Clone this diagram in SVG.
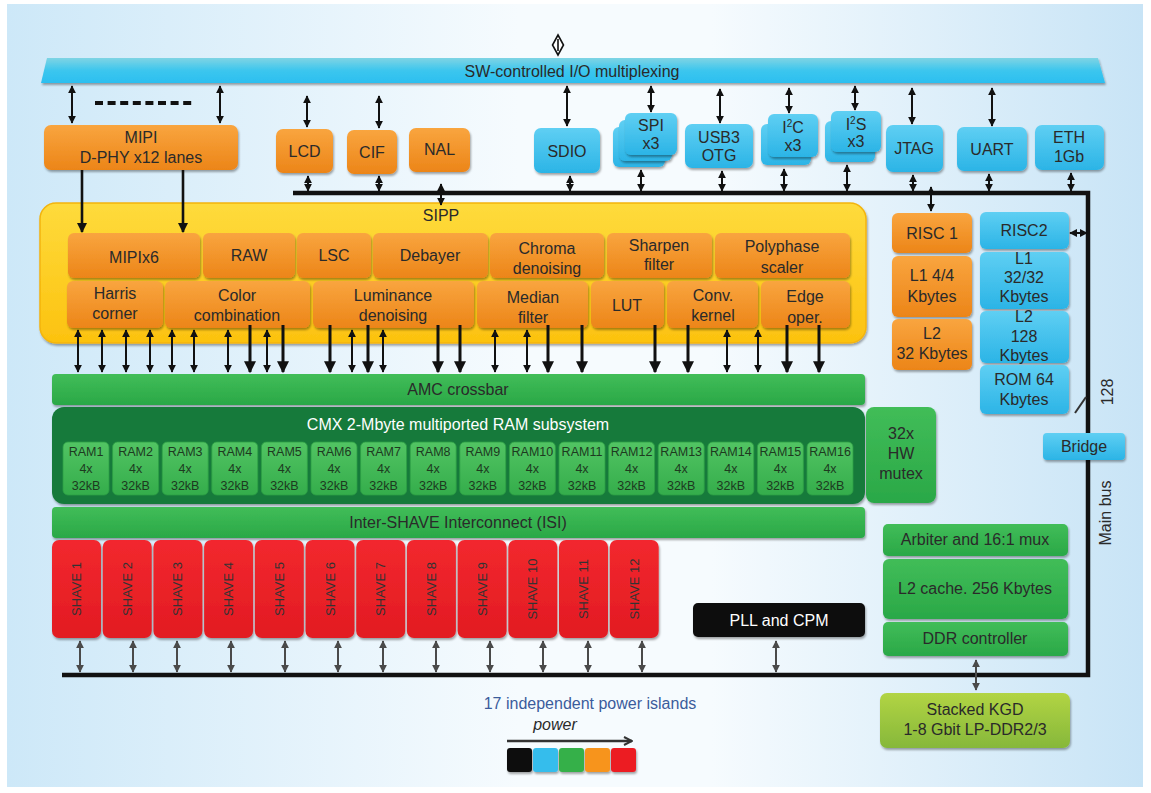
<svg xmlns="http://www.w3.org/2000/svg" width="1151" height="793" viewBox="0 0 1151 793">
<defs>
<linearGradient id="bg" x1="0" y1="0" x2="1" y2="0">
<stop offset="0" stop-color="#cde8f8"/><stop offset="0.45" stop-color="#f6fbfe"/><stop offset="0.62" stop-color="#f6fbfe"/><stop offset="1" stop-color="#c8e4f6"/>
</linearGradient>
<linearGradient id="gOr" x1="0" y1="0" x2="0" y2="1"><stop offset="0" stop-color="#f9a53f"/><stop offset="1" stop-color="#ec8518"/></linearGradient>
<linearGradient id="gBl" x1="0" y1="0" x2="0" y2="1"><stop offset="0" stop-color="#5fcff3"/><stop offset="1" stop-color="#2bb4e6"/></linearGradient>
<linearGradient id="gGr" x1="0" y1="0" x2="0" y2="1"><stop offset="0" stop-color="#41bd58"/><stop offset="1" stop-color="#2aa847"/></linearGradient>
<linearGradient id="gRam" x1="0" y1="0" x2="0" y2="1"><stop offset="0" stop-color="#52c463"/><stop offset="1" stop-color="#34ad4b"/></linearGradient>
<linearGradient id="gRd" x1="0" y1="0" x2="0" y2="1"><stop offset="0" stop-color="#f2282e"/><stop offset="1" stop-color="#e21b22"/></linearGradient>
<linearGradient id="gYe" x1="0" y1="0" x2="0" y2="1"><stop offset="0" stop-color="#fedb3c"/><stop offset="1" stop-color="#fcc20f"/></linearGradient>
<linearGradient id="gLi" x1="0" y1="0" x2="0" y2="1"><stop offset="0" stop-color="#b2d444"/><stop offset="1" stop-color="#86b83a"/></linearGradient>
<linearGradient id="gBar" x1="0" y1="0" x2="0" y2="1"><stop offset="0" stop-color="#7fd4e4"/><stop offset="0.5" stop-color="#3cc6ee"/><stop offset="1" stop-color="#2bbff0"/></linearGradient>
<filter id="sh" x="-10%" y="-10%" width="120%" height="130%"><feDropShadow dx="1" dy="2" stdDeviation="1.3" flood-color="#000" flood-opacity="0.35"/></filter>
<marker id="ah" viewBox="0 0 10 10" refX="9" refY="5" markerWidth="4" markerHeight="4" orient="auto-start-reverse"><path d="M0,0 L10,5 L0,10 z" fill="#111"/></marker>
<marker id="ag" viewBox="0 0 10 10" refX="9" refY="5" markerWidth="4" markerHeight="4" orient="auto-start-reverse"><path d="M0,0 L10,5 L0,10 z" fill="#4a4a4a"/></marker>
<marker id="ao" viewBox="0 0 10 10" refX="9" refY="5" markerWidth="4" markerHeight="4" orient="auto"><path d="M1,1 L9,5 L1,9" fill="none" stroke="#333" stroke-width="2"/></marker>
<style>
.t{font-family:"Liberation Sans",Arial,sans-serif;font-size:16px;fill:#2a2a2a;text-anchor:middle}
.s{font-size:12.5px;fill:#1d3a1f}
.sv{font-size:13px;fill:#333}
.w{fill:#fff}
.or{fill:url(#gOr);filter:url(#sh)}
.bl{fill:url(#gBl);filter:url(#sh)}
.gr{fill:url(#gGr);filter:url(#sh)}
.rd{fill:url(#gRd);filter:url(#sh)}
.ram{fill:url(#gRam);stroke:#2c9e44;stroke-width:0.8}
.a{stroke:#111;stroke-width:2;fill:none;marker-start:url(#ah);marker-end:url(#ah)}
.d{stroke:#111;stroke-width:2.6;fill:none;marker-end:url(#ah)}
.g{stroke:#4a4a4a;stroke-width:2;fill:none;marker-start:url(#ag);marker-end:url(#ag)}
</style>
</defs>
<rect x="0" y="0" width="1151" height="793" fill="#fff"/>
<rect x="7" y="4" width="1136" height="783" fill="url(#bg)"/>

<g id="main-bus">
<path d="M293,193 H1088 V675 H62" fill="none" stroke="#111" stroke-width="4.5"/>
</g>

<g id="io-mux">
<polygon points="47,58 1098,58 1105,83 41,83" fill="url(#gBar)" filter="url(#sh)"/>
<text class="t" x="572" y="77" font-size="15">SW-controlled I/O multiplexing</text>
</g>

<g id="mipi"><rect class="or" x="44" y="125" width="194" height="45" rx="7"/><text class="t" x="141" y="143">MIPI</text><text class="t" x="141" y="163">D-PHY x12 lanes</text></g>
<g id="lcd"><rect class="or" x="276" y="129" width="57" height="44" rx="7"/><text class="t" x="304.5" y="157">LCD</text></g>
<g id="cif"><rect class="or" x="347" y="130" width="50" height="44" rx="7"/><text class="t" x="372" y="158">CIF</text></g>
<g id="nal"><rect class="or" x="409" y="128" width="61" height="44" rx="7"/><text class="t" x="439.5" y="155">NAL</text></g>
<g id="sdio"><rect class="bl" x="534" y="128" width="66" height="45" rx="7"/><text class="t" x="567" y="157">SDIO</text></g>
<g id="spi"><rect class="bl" x="613" y="127" width="52" height="40" rx="6"/><rect class="bl" x="619" y="120" width="53" height="41" rx="6"/><rect class="bl" x="625" y="113" width="52" height="42" rx="6"/><text class="t" x="651" y="131" font-size="14">SPI</text><text class="t" x="651" y="149" font-size="14">x3</text></g>
<g id="usb3"><rect class="bl" x="685" y="124" width="68" height="44" rx="7"/><text class="t" x="719" y="143" font-size="15">USB3</text><text class="t" x="719" y="161" font-size="15">OTG</text></g>
<g id="i2c"><rect class="bl" x="761" y="124" width="50" height="41" rx="6"/><rect class="bl" x="768" y="114" width="50" height="43" rx="6"/><text class="t" x="793" y="133" font-size="15">I<tspan font-size="10" dy="-6">2</tspan><tspan dy="6">C</tspan></text><text class="t" x="793" y="151" font-size="15">x3</text></g>
<g id="i2s"><rect class="bl" x="825" y="121" width="50" height="41" rx="6"/><rect class="bl" x="831" y="111" width="50" height="41" rx="6"/><text class="t" x="856" y="130" font-size="15">I<tspan font-size="10" dy="-6">2</tspan><tspan dy="6">S</tspan></text><text class="t" x="856" y="147" font-size="14">x3</text></g>
<g id="jtag"><rect class="bl" x="886" y="125" width="57" height="47" rx="7"/><text class="t" x="914" y="154">JTAG</text></g>
<g id="uart"><rect class="bl" x="957" y="127" width="70" height="44" rx="7"/><text class="t" x="992" y="155">UART</text></g>
<g id="eth"><rect class="bl" x="1035" y="125" width="69" height="45" rx="7"/><text class="t" x="1069" y="143">ETH</text><text class="t" x="1069" y="162">1Gb</text></g>

<g id="sipp">
<rect x="40" y="203" width="826" height="140" rx="16" fill="url(#gYe)" stroke="#f3b40c" stroke-width="1.5" filter="url(#sh)"/>
<text class="t" x="441" y="221">SIPP</text>
<rect class="or" x="68" y="233" width="132" height="45" rx="6"/><text class="t" x="134" y="263">MIPIx6</text>
<rect class="or" x="203" y="233" width="92" height="45" rx="6"/><text class="t" x="249" y="261">RAW</text>
<rect class="or" x="297" y="233" width="74" height="45" rx="6"/><text class="t" x="334" y="261">LSC</text>
<rect class="or" x="373" y="233" width="115" height="45" rx="6"/><text class="t" x="430" y="261">Debayer</text>
<rect class="or" x="490" y="233" width="114" height="45" rx="6"/><text class="t" x="547" y="254">Chroma</text><text class="t" x="547" y="274">denoising</text>
<rect class="or" x="607" y="233" width="105" height="45" rx="6"/><text class="t" x="659" y="251">Sharpen</text><text class="t" x="659" y="270">filter</text>
<rect class="or" x="715" y="233" width="135" height="45" rx="6"/><text class="t" x="782" y="252">Polyphase</text><text class="t" x="782" y="273">scaler</text>
<rect class="or" x="67" y="281" width="96" height="47" rx="6"/><text class="t" x="115" y="299">Harris</text><text class="t" x="115" y="319">corner</text>
<rect class="or" x="165" y="281" width="145" height="47" rx="6"/><text class="t" x="237" y="301">Color</text><text class="t" x="237" y="321">combination</text>
<rect class="or" x="313" y="281" width="161" height="47" rx="6"/><text class="t" x="393" y="301">Luminance</text><text class="t" x="393" y="321">denoising</text>
<rect class="or" x="477" y="281" width="111" height="47" rx="6"/><text class="t" x="533" y="303">Median</text><text class="t" x="533" y="323">filter</text>
<rect class="or" x="591" y="281" width="73" height="47" rx="6"/><text class="t" x="627" y="311">LUT</text>
<rect class="or" x="667" y="281" width="91" height="47" rx="6"/><text class="t" x="713" y="301">Conv.</text><text class="t" x="713" y="321">kernel</text>
<rect class="or" x="761" y="281" width="89" height="47" rx="6"/><text class="t" x="805" y="302">Edge</text><text class="t" x="805" y="323">oper.</text>
</g>

<g id="risc1"><rect class="or" x="892" y="213" width="80" height="40" rx="6"/><text class="t" x="932" y="239">RISC 1</text></g>
<g id="l1-risc1"><rect class="or" x="892" y="256" width="80" height="61" rx="6"/><text class="t" x="932" y="281">L1 4/4</text><text class="t" x="932" y="302">Kbytes</text></g>
<g id="l2-risc1"><rect class="or" x="892" y="319" width="80" height="51" rx="6"/><text class="t" x="932" y="339">L2</text><text class="t" x="932" y="359">32 Kbytes</text></g>
<g id="risc2"><rect class="bl" x="980" y="212" width="89" height="37" rx="6"/><text class="t" x="1024" y="236">RISC2</text></g>
<g id="l1-risc2"><rect class="bl" x="980" y="252" width="89" height="57" rx="6"/><text class="t" x="1024" y="264">L1</text><text class="t" x="1024" y="283">32/32</text><text class="t" x="1024" y="302">Kbytes</text></g>
<g id="l2-risc2"><rect class="bl" x="980" y="311" width="89" height="52" rx="6"/><text class="t" x="1024" y="322">L2</text><text class="t" x="1024" y="342">128</text><text class="t" x="1024" y="361">Kbytes</text></g>
<g id="rom"><rect class="bl" x="980" y="365" width="89" height="49" rx="6"/><text class="t" x="1024" y="385">ROM 64</text><text class="t" x="1024" y="405">Kbytes</text></g>
<g id="bridge"><rect class="bl" x="1043" y="433" width="82" height="27" rx="4"/><text class="t" x="1084" y="452">Bridge</text></g>

<g id="amc"><rect class="gr" x="52" y="374" width="813" height="31" rx="4"/><text class="t" x="458" y="395" font-size="15">AMC crossbar</text></g>
<g id="cmx">
<rect x="52" y="407" width="813" height="97" rx="12" fill="#167a3b" filter="url(#sh)"/>
<text class="t w" x="458" y="430" font-size="15">CMX 2-Mbyte multiported RAM subsystem</text>
<g transform="translate(63,442)"><rect class="ram" width="46" height="53" rx="5"/><text class="t s" x="23" y="14">RAM1</text><text class="t s" x="23" y="31">4x</text><text class="t s" x="23" y="48">32kB</text></g>
<g transform="translate(112.6,442)"><rect class="ram" width="46" height="53" rx="5"/><text class="t s" x="23" y="14">RAM2</text><text class="t s" x="23" y="31">4x</text><text class="t s" x="23" y="48">32kB</text></g>
<g transform="translate(162.2,442)"><rect class="ram" width="46" height="53" rx="5"/><text class="t s" x="23" y="14">RAM3</text><text class="t s" x="23" y="31">4x</text><text class="t s" x="23" y="48">32kB</text></g>
<g transform="translate(211.8,442)"><rect class="ram" width="46" height="53" rx="5"/><text class="t s" x="23" y="14">RAM4</text><text class="t s" x="23" y="31">4x</text><text class="t s" x="23" y="48">32kB</text></g>
<g transform="translate(261.4,442)"><rect class="ram" width="46" height="53" rx="5"/><text class="t s" x="23" y="14">RAM5</text><text class="t s" x="23" y="31">4x</text><text class="t s" x="23" y="48">32kB</text></g>
<g transform="translate(311,442)"><rect class="ram" width="46" height="53" rx="5"/><text class="t s" x="23" y="14">RAM6</text><text class="t s" x="23" y="31">4x</text><text class="t s" x="23" y="48">32kB</text></g>
<g transform="translate(360.6,442)"><rect class="ram" width="46" height="53" rx="5"/><text class="t s" x="23" y="14">RAM7</text><text class="t s" x="23" y="31">4x</text><text class="t s" x="23" y="48">32kB</text></g>
<g transform="translate(410.2,442)"><rect class="ram" width="46" height="53" rx="5"/><text class="t s" x="23" y="14">RAM8</text><text class="t s" x="23" y="31">4x</text><text class="t s" x="23" y="48">32kB</text></g>
<g transform="translate(459.8,442)"><rect class="ram" width="46" height="53" rx="5"/><text class="t s" x="23" y="14">RAM9</text><text class="t s" x="23" y="31">4x</text><text class="t s" x="23" y="48">32kB</text></g>
<g transform="translate(509.4,442)"><rect class="ram" width="46" height="53" rx="5"/><text class="t s" x="23" y="14">RAM10</text><text class="t s" x="23" y="31">4x</text><text class="t s" x="23" y="48">32kB</text></g>
<g transform="translate(559,442)"><rect class="ram" width="46" height="53" rx="5"/><text class="t s" x="23" y="14">RAM11</text><text class="t s" x="23" y="31">4x</text><text class="t s" x="23" y="48">32kB</text></g>
<g transform="translate(608.6,442)"><rect class="ram" width="46" height="53" rx="5"/><text class="t s" x="23" y="14">RAM12</text><text class="t s" x="23" y="31">4x</text><text class="t s" x="23" y="48">32kB</text></g>
<g transform="translate(658.2,442)"><rect class="ram" width="46" height="53" rx="5"/><text class="t s" x="23" y="14">RAM13</text><text class="t s" x="23" y="31">4x</text><text class="t s" x="23" y="48">32kB</text></g>
<g transform="translate(707.8,442)"><rect class="ram" width="46" height="53" rx="5"/><text class="t s" x="23" y="14">RAM14</text><text class="t s" x="23" y="31">4x</text><text class="t s" x="23" y="48">32kB</text></g>
<g transform="translate(757.4,442)"><rect class="ram" width="46" height="53" rx="5"/><text class="t s" x="23" y="14">RAM15</text><text class="t s" x="23" y="31">4x</text><text class="t s" x="23" y="48">32kB</text></g>
<g transform="translate(807,442)"><rect class="ram" width="46" height="53" rx="5"/><text class="t s" x="23" y="14">RAM16</text><text class="t s" x="23" y="31">4x</text><text class="t s" x="23" y="48">32kB</text></g>
</g>
<g id="mutex"><rect class="gr" x="866" y="407" width="70" height="96" rx="8"/><text class="t" x="901" y="439">32x</text><text class="t" x="901" y="459">HW</text><text class="t" x="901" y="479">mutex</text></g>
<g id="isi"><rect class="gr" x="52" y="507" width="813" height="31" rx="4"/><text class="t" x="458" y="528">Inter-SHAVE Interconnect (ISI)</text></g>

<g id="shaves">
<g transform="translate(52,540)"><rect class="rd" width="49" height="98" rx="7"/><text class="t sv" transform="translate(29,49) rotate(-90)">SHAVE 1</text></g>
<g transform="translate(102.7,540)"><rect class="rd" width="49" height="98" rx="7"/><text class="t sv" transform="translate(29,49) rotate(-90)">SHAVE 2</text></g>
<g transform="translate(153.4,540)"><rect class="rd" width="49" height="98" rx="7"/><text class="t sv" transform="translate(29,49) rotate(-90)">SHAVE 3</text></g>
<g transform="translate(204.1,540)"><rect class="rd" width="49" height="98" rx="7"/><text class="t sv" transform="translate(29,49) rotate(-90)">SHAVE 4</text></g>
<g transform="translate(254.8,540)"><rect class="rd" width="49" height="98" rx="7"/><text class="t sv" transform="translate(29,49) rotate(-90)">SHAVE 5</text></g>
<g transform="translate(305.5,540)"><rect class="rd" width="49" height="98" rx="7"/><text class="t sv" transform="translate(29,49) rotate(-90)">SHAVE 6</text></g>
<g transform="translate(356.2,540)"><rect class="rd" width="49" height="98" rx="7"/><text class="t sv" transform="translate(29,49) rotate(-90)">SHAVE 7</text></g>
<g transform="translate(406.9,540)"><rect class="rd" width="49" height="98" rx="7"/><text class="t sv" transform="translate(29,49) rotate(-90)">SHAVE 8</text></g>
<g transform="translate(457.6,540)"><rect class="rd" width="49" height="98" rx="7"/><text class="t sv" transform="translate(29,49) rotate(-90)">SHAVE 9</text></g>
<g transform="translate(508.3,540)"><rect class="rd" width="49" height="98" rx="7"/><text class="t sv" transform="translate(29,49) rotate(-90)">SHAVE 10</text></g>
<g transform="translate(559,540)"><rect class="rd" width="49" height="98" rx="7"/><text class="t sv" transform="translate(29,49) rotate(-90)">SHAVE 11</text></g>
<g transform="translate(609.7,540)"><rect class="rd" width="49" height="98" rx="7"/><text class="t sv" transform="translate(29,49) rotate(-90)">SHAVE 12</text></g>
</g>

<g id="pll"><rect x="693" y="603" width="172" height="34" rx="5" fill="#111" filter="url(#sh)"/><text class="t w" x="779" y="626">PLL and CPM</text></g>
<g id="arbiter"><rect class="gr" x="883" y="524" width="185" height="32" rx="5"/><text class="t" x="975" y="545" font-size="15">Arbiter and 16:1 mux</text></g>
<g id="l2cache"><rect class="gr" x="883" y="559" width="185" height="60" rx="6"/><text class="t" x="975" y="594" font-size="15">L2 cache. 256 Kbytes</text></g>
<g id="ddr"><rect class="gr" x="883" y="622" width="185" height="34" rx="5"/><text class="t" x="975" y="644" font-size="15">DDR controller</text></g>
<g id="kgd"><rect x="880" y="693" width="190" height="55" rx="7" fill="url(#gLi)" filter="url(#sh)"/><text class="t" x="975" y="715" font-size="15">Stacked KGD</text><text class="t" x="975" y="735" font-size="15">1-8 Gbit LP-DDR2/3</text></g>

<g id="connectors">
<polygon points="558,35 563.5,45 558,55 552.5,45" fill="#fff" stroke="#111" stroke-width="1.6"/>
<line x1="558" y1="39" x2="558" y2="51" stroke="#111" stroke-width="1.6"/>
<line class="a" x1="72" y1="86" x2="72" y2="123"/>
<line class="a" x1="220" y1="86" x2="220" y2="123"/>
<line x1="95" y1="103" x2="195" y2="103" stroke="#111" stroke-width="4" stroke-dasharray="8,4.6"/>
<line class="d" x1="82" y1="170" x2="82" y2="232"/>
<line class="d" x1="183" y1="170" x2="183" y2="232"/>
<line class="a" x1="307" y1="96" x2="307" y2="127"/>
<line class="a" x1="379" y1="96" x2="379" y2="128"/>
<line class="a" x1="567" y1="86" x2="567" y2="126"/>
<line class="a" x1="651" y1="86" x2="651" y2="112"/>
<line class="a" x1="720" y1="89" x2="720" y2="123"/>
<line class="a" x1="789" y1="88" x2="789" y2="113"/>
<line class="a" x1="855" y1="86" x2="855" y2="110"/>
<line class="a" x1="912" y1="88" x2="912" y2="124"/>
<line class="a" x1="992" y1="88" x2="992" y2="126"/>
<g class="a">
<line x1="308" y1="176" x2="308" y2="191"/><line x1="379" y1="176" x2="379" y2="191"/>
<line x1="570" y1="176" x2="570" y2="191"/><line x1="641" y1="170" x2="641" y2="191"/>
<line x1="722" y1="171" x2="722" y2="191"/><line x1="784" y1="169" x2="784" y2="191"/>
<line x1="847" y1="165" x2="847" y2="191"/><line x1="913" y1="175" x2="913" y2="191"/>
<line x1="989" y1="174" x2="989" y2="191"/><line x1="1071" y1="173" x2="1071" y2="191"/>
</g>
<line class="a" x1="441" y1="184" x2="441" y2="205"/>
<line class="a" x1="931" y1="187" x2="931" y2="211"/>
<line class="a" x1="1070" y1="233" x2="1087" y2="233"/>
<line x1="1075" y1="413" x2="1086" y2="397" stroke="#333" stroke-width="2"/>
<g class="a">
<line x1="78" y1="330" x2="78" y2="372"/><line x1="102" y1="330" x2="102" y2="372"/>
<line x1="126" y1="330" x2="126" y2="372"/><line x1="150" y1="330" x2="150" y2="372"/>
<line x1="172" y1="330" x2="172" y2="372"/><line x1="194" y1="330" x2="194" y2="372"/>
<line x1="228" y1="330" x2="228" y2="372"/><line x1="267" y1="330" x2="267" y2="372"/>
<line x1="352" y1="330" x2="352" y2="372"/><line x1="383" y1="330" x2="383" y2="372"/>
<line x1="495" y1="330" x2="495" y2="372"/><line x1="527" y1="330" x2="527" y2="372"/>
<line x1="727" y1="330" x2="727" y2="372"/><line x1="758" y1="330" x2="758" y2="372"/>
</g>
<g class="d" style="stroke-width:3">
<line x1="250" y1="325" x2="250" y2="372"/><line x1="283" y1="325" x2="283" y2="372"/>
<line x1="330" y1="325" x2="330" y2="372"/><line x1="368" y1="325" x2="368" y2="372"/>
<line x1="438" y1="325" x2="438" y2="372"/><line x1="460" y1="325" x2="460" y2="372"/>
<line x1="548" y1="325" x2="548" y2="372"/><line x1="582" y1="325" x2="582" y2="372"/>
<line x1="655" y1="325" x2="655" y2="372"/><line x1="688" y1="325" x2="688" y2="372"/>
<line x1="787" y1="325" x2="787" y2="372"/><line x1="819" y1="325" x2="819" y2="372"/>
</g>
<g class="g">
<line x1="80" y1="641" x2="80" y2="672"/><line x1="133" y1="641" x2="133" y2="672"/>
<line x1="177" y1="641" x2="177" y2="672"/><line x1="231" y1="641" x2="231" y2="672"/>
<line x1="285" y1="641" x2="285" y2="672"/><line x1="338" y1="641" x2="338" y2="672"/>
<line x1="383" y1="641" x2="383" y2="672"/><line x1="436" y1="641" x2="436" y2="672"/>
<line x1="490" y1="641" x2="490" y2="672"/><line x1="543" y1="641" x2="543" y2="672"/>
<line x1="588" y1="641" x2="588" y2="672"/><line x1="642" y1="641" x2="642" y2="672"/>
<line x1="776" y1="641" x2="776" y2="672"/>
</g>
<line class="g" x1="976" y1="660" x2="976" y2="690"/>
</g>

<text class="t" x="1108" y="392" font-size="14" transform="rotate(-90 1108 392)" dy="5">128</text>
<text class="t" x="1106" y="513" font-size="15" transform="rotate(-90 1106 513)" dy="5">Main bus</text>

<g id="legend">
<text class="t" x="590" y="709" font-size="17" style="fill:#3b5c9c">17 independent power islands</text>
<text class="t" x="555" y="730" font-size="13" font-style="italic">power</text>
<line x1="507" y1="741" x2="632" y2="741" stroke="#333" stroke-width="2.5" marker-end="url(#ao)"/>
<rect x="507" y="748" width="25" height="24" rx="3" fill="#111" filter="url(#sh)"/>
<rect x="533" y="748" width="25" height="24" rx="3" fill="#35bdec" filter="url(#sh)"/>
<rect x="559" y="748" width="25" height="24" rx="3" fill="#34b04a" filter="url(#sh)"/>
<rect x="585" y="748" width="25" height="24" rx="3" fill="#f7941d" filter="url(#sh)"/>
<rect x="611" y="748" width="25" height="24" rx="3" fill="#ec1c24" filter="url(#sh)"/>
</g>
</svg>
